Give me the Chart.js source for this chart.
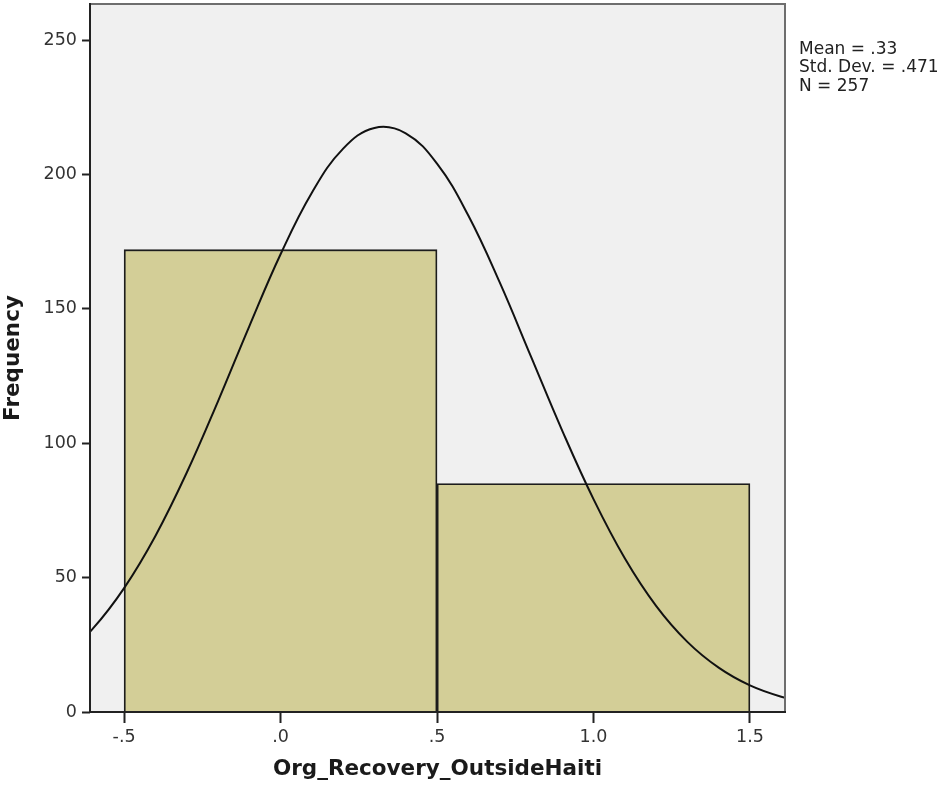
<!DOCTYPE html>
<html>
<head>
<meta charset="utf-8">
<script src="https://cdn.jsdelivr.net/npm/chart.js@4/dist/chart.umd.min.js"></script>
<style>
  html, body { margin: 0; padding: 0; background: #ffffff; }
  #wrap { position: relative; width: 948px; height: 791px; }
  #stats {
    position: absolute; left: 799px; top: 39px;
    font-family: "DejaVu Sans", sans-serif; font-size: 17px; line-height: 18.3px;
    color: #222; white-space: nowrap;
  }
</style>
</head>
<body>
<div id="wrap">
  <canvas id="c" width="948" height="791"></canvas>
  <div id="stats">Mean = .33<br>Std. Dev. = .471<br>N = 257</div>
</div>
<script>
// Histogram of Org_Recovery_OutsideHaiti (bins centred on 0 and 1, width 1)
const binCenters = [0, 1];
const binCounts = [172, 85];

// Fitted normal curve, sampled along the x axis
const curveX = [-0.7, -0.6, -0.5, -0.4, -0.3, -0.2, -0.1, 0.0, 0.1, 0.2, 0.3, 0.4, 0.5, 0.6, 0.7, 0.8, 0.9, 1.0, 1.1, 1.2, 1.3, 1.4, 1.5, 1.6, 1.7];
const curveY = [19.8, 31.0, 46.1, 65.5, 89.0, 115.6, 143.5, 170.3, 193.2, 209.6, 217.3, 215.3, 204.0, 184.7, 159.9, 132.3, 104.7, 79.2, 57.2, 39.5, 26.1, 16.5, 9.9, 5.7, 3.1];

// Axis ticks
const xTickValues = [-0.5, 0, 0.5, 1.0, 1.5];
const xTickLabels = ['-.5', '.0', '.5', '1.0', '1.5'];
const yTickValues = [0, 50, 100, 150, 200, 250];

const plotFrame = {
  id: 'plotFrame',
  beforeDatasetsDraw(chart) {
    const { ctx, chartArea: a } = chart;
    ctx.save();
    ctx.fillStyle = '#f0f0f0';
    ctx.fillRect(a.left, a.top, a.right - a.left, a.bottom - a.top);
    ctx.restore();
  },
  afterDraw(chart) {
    const { ctx, chartArea: a } = chart;
    ctx.save();
    ctx.strokeStyle = '#6e6e6e';
    ctx.lineWidth = 2;
    ctx.beginPath();
    ctx.moveTo(a.left, a.top);
    ctx.lineTo(a.right, a.top);
    ctx.lineTo(a.right, a.bottom);
    ctx.stroke();
    ctx.strokeStyle = '#222';
    ctx.beginPath();
    ctx.moveTo(a.left, a.top - 1);
    ctx.lineTo(a.left, a.bottom);
    ctx.lineTo(a.right + 1, a.bottom);
    ctx.stroke();
    ctx.restore();
  }
};

new Chart(document.getElementById('c'), {
  type: 'bar',
  data: {
    datasets: [
      {
        type: 'line',
        data: curveX.map((x, i) => ({ x: x, y: curveY[i] })),
        borderColor: '#111',
        borderWidth: 2,
        pointRadius: 0,
        tension: 0.4,
        fill: false,
        order: 0
      },
      {
        type: 'bar',
        data: binCenters.map((x, i) => ({ x: x, y: binCounts[i] })),
        backgroundColor: '#d3ce97',
        borderColor: '#1c1c1c',
        borderWidth: 1.8,
        barThickness: 'flex',
        barPercentage: 1,
        categoryPercentage: 1,
        order: 1
      }
    ]
  },
  options: {
    responsive: false,
    animation: false,
    layout: { padding: { top: 4, right: 163, bottom: 0, left: 0 } },
    plugins: { legend: { display: false }, tooltip: { enabled: false } },
    scales: {
      x: {
        type: 'linear',
        offset: false,
        min: -0.609,
        max: 1.612,
        afterBuildTicks: s => { s.ticks = xTickValues.map(v => ({ value: v })); },
        afterFit: s => { s.height = 79; s.paddingLeft = 0; s.paddingRight = 0; },
        grid: { offset: false, drawOnChartArea: false, tickLength: 11, tickColor: '#222', tickWidth: 2 },
        border: { display: false },
        ticks: {
          color: '#333',
          font: { family: 'DejaVu Sans', size: 17.5 },
          padding: 4,
          maxRotation: 0,
          autoSkip: false,
          callback: v => xTickLabels[xTickValues.indexOf(v)]
        },
        title: {
          display: true,
          text: 'Org_Recovery_OutsideHaiti',
          color: '#1a1a1a',
          font: { family: 'DejaVu Sans', size: 21.5, weight: 'bold' },
          padding: { top: 4, bottom: 9 }
        }
      },
      y: {
        min: 0,
        max: 263.4,
        afterBuildTicks: s => { s.ticks = yTickValues.map(v => ({ value: v })); },
        afterFit: s => { s.width = 90; s.paddingTop = 0; s.paddingBottom = 0; },
        grid: { drawOnChartArea: false, tickLength: 8, tickColor: '#222', tickWidth: 2 },
        border: { display: false },
        ticks: {
          color: '#333',
          font: { family: 'DejaVu Sans', size: 17.5 },
          padding: 5
        },
        title: {
          display: true,
          text: 'Frequency',
          color: '#1a1a1a',
          font: { family: 'DejaVu Sans', size: 21.5, weight: 'bold' },
          padding: { top: 1, bottom: 0 }
        }
      }
    }
  },
  plugins: [plotFrame]
});
</script>
</body>
</html>
